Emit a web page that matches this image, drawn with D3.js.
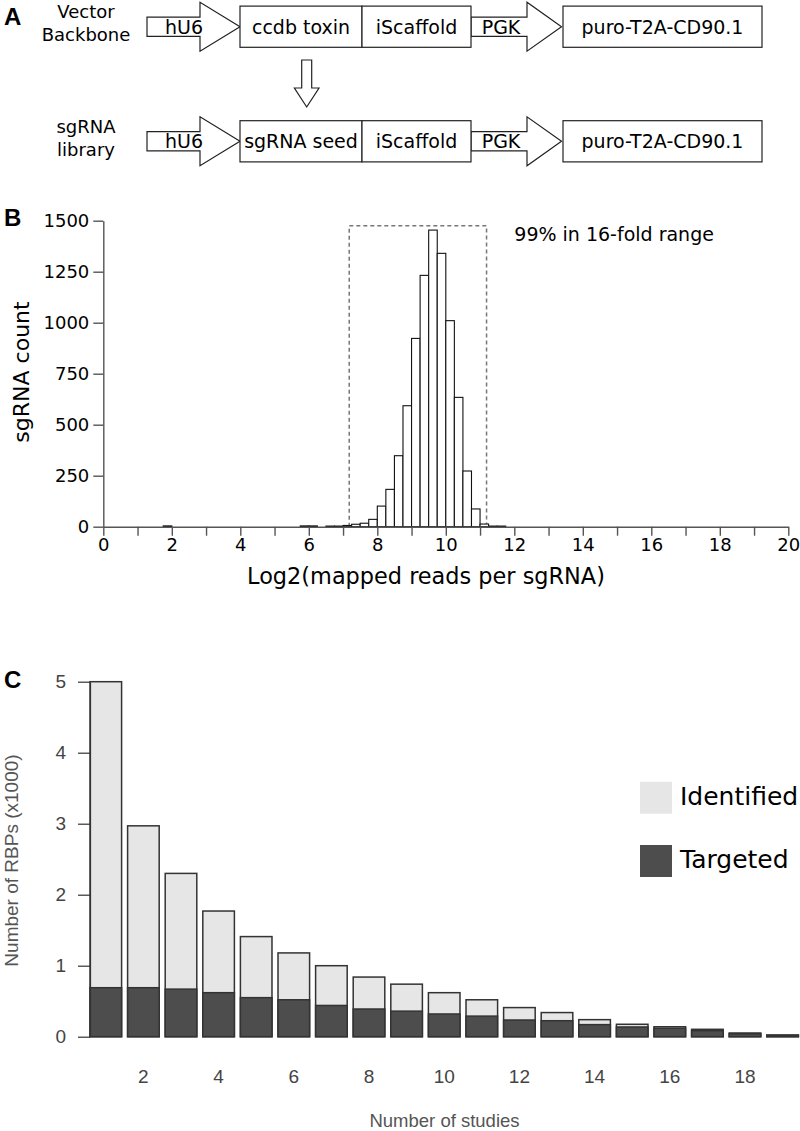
<!DOCTYPE html>
<html>
<head>
<meta charset="utf-8">
<script src="https://cdn.jsdelivr.net/npm/d3@7/dist/d3.min.js"></script>
<style>
  html, body { margin: 0; padding: 0; background: #fff; }
  svg { display: block; }
</style>
</head>
<body>
<svg id="fig" width="800" height="1131"></svg>
<script>
// ---------- Panel A: construct components ----------
const rowLabels = [["Vector", "Backbone"], ["sgRNA", "library"]];
const promoterA = "hU6";
const insertNames = ["ccdb toxin", "sgRNA seed"];
const scaffoldName = "iScaffold";
const promoterB = "PGK";
const cassetteName = "puro-T2A-CD90.1";

// ---------- Panel B: histogram (bin width 0.25, log2 reads) ----------
const binWidth = 0.25;
const binStart = [1.75, 5.75, 6.0, 6.5, 6.75, 7.0, 7.25, 7.5, 7.75, 8.0, 8.25, 8.5, 8.75, 9.0, 9.25, 9.5, 9.75, 10.0, 10.25, 10.5, 10.75, 11.0, 11.25, 11.5];
const binCount = [4, 4, 4, 3, 3, 6, 12, 17, 36, 101, 183, 348, 593, 923, 1232, 1454, 1340, 1010, 634, 273, 87, 13, 3, 3];
const rangeBox = [7.18, 11.19];
const rangeBoxTop = 1475;
const histYTicks = [0, 250, 500, 750, 1000, 1250, 1500];
const rangeNote = "99% in 16-fold range";

// ---------- Panel C: RBPs per number of studies (x1000) ----------
const studies = [1, 2, 3, 4, 5, 6, 7, 8, 9, 10, 11, 12, 13, 14, 15, 16, 17, 18, 19];
const identified = [5.0, 2.97, 2.30, 1.77, 1.41, 1.18, 1.00, 0.84, 0.74, 0.62, 0.52, 0.41, 0.34, 0.24, 0.175, 0.14, 0.104, 0.052, 0.024];
const targeted = [0.69, 0.69, 0.67, 0.62, 0.55, 0.52, 0.44, 0.39, 0.36, 0.32, 0.29, 0.235, 0.225, 0.17, 0.137, 0.12, 0.085, 0.042, 0.02];
const rbpYTicks = [0, 1, 2, 3, 4, 5];
const studyXTicks = [2, 4, 6, 8, 10, 12, 14, 16, 18];
const legendItems = ["Identified", "Targeted"];

const svg = d3.select("#fig");
const VER = "'DejaVu Sans', Verdana, sans-serif";
const ARI = "'Liberation Sans', Arial, Helvetica, sans-serif";

// panel letters
[["A", 25], ["B", 226], ["C", 688]].forEach(([t, y]) => {
  svg.append("text").attr("x", 4).attr("y", y).text(t)
    .attr("font-family", ARI).attr("font-weight", "bold").attr("font-size", 24).attr("fill", "#000");
});

// ================= Panel A =================
const gA = svg.append("g");
const rowCY = [26.7, 141.3];
const boxHalf = 20.6, shaftHalf = 9.6, headHalf = 24.5;
function arrowPath(x0, xh, xt, cy) {
  return `M${x0},${cy - shaftHalf}L${xh},${cy - shaftHalf}L${xh},${cy - headHalf}L${xt},${cy}L${xh},${cy + headHalf}L${xh},${cy + shaftHalf}L${x0},${cy + shaftHalf}Z`;
}
rowCY.forEach((cy, i) => {
  const lbl = gA.append("text").attr("text-anchor", "middle").attr("font-family", VER).attr("font-size", 18).attr("fill", "#000");
  lbl.append("tspan").attr("x", 86).attr("y", cy - 8.5).text(rowLabels[i][0]);
  lbl.append("tspan").attr("x", 86).attr("y", cy + 14.5).text(rowLabels[i][1]);
  gA.append("path").attr("d", arrowPath(147, 200, 240, cy)).attr("fill", "#fff").attr("stroke", "#222").attr("stroke-width", 1.2);
  gA.append("text").attr("x", 184).attr("y", cy + 6.8).attr("text-anchor", "middle").attr("font-family", VER).attr("font-size", 19).text(promoterA);
  gA.append("path").attr("d", arrowPath(471, 527, 561.5, cy)).attr("fill", "#fff").attr("stroke", "#222").attr("stroke-width", 1.2);
  gA.append("text").attr("x", 501).attr("y", cy + 6.8).attr("text-anchor", "middle").attr("font-family", VER).attr("font-size", 19).text(promoterB);
  const boxes = [[240, 362, insertNames[i]], [362, 471, scaffoldName], [563, 762, cassetteName]];
  boxes.forEach(([x0, x1, t]) => {
    gA.append("rect").attr("x", x0).attr("y", cy - boxHalf).attr("width", x1 - x0).attr("height", boxHalf * 2)
      .attr("fill", "#fff").attr("stroke", "#222").attr("stroke-width", 1.2);
    gA.append("text").attr("x", (x0 + x1) / 2).attr("y", cy + 6.8).attr("text-anchor", "middle")
      .attr("font-family", VER).attr("font-size", 19).text(t);
  });
});
gA.append("path")
  .attr("d", "M301.7,60L311.7,60L311.7,88L319,88L306.7,107L294.4,88L301.7,88Z")
  .attr("fill", "#fff").attr("stroke", "#222").attr("stroke-width", 1.2);

// ================= Panel B =================
const gB = svg.append("g");
const xB = d3.scaleLinear().domain([0, 20]).range([103.3, 788.3]);
const yB = d3.scaleLinear().domain([0, 1500]).range([526.7, 220.7]);

gB.append("path")
  .attr("d", `M${xB(rangeBox[0])},${yB(0)}L${xB(rangeBox[0])},${yB(rangeBoxTop)}L${xB(rangeBox[1])},${yB(rangeBoxTop)}L${xB(rangeBox[1])},${yB(0)}`)
  .attr("fill", "none").attr("stroke", "#777").attr("stroke-width", 1.5).attr("stroke-dasharray", "4,3");

gB.selectAll("rect.bin").data(binStart).join("rect").attr("class", "bin")
  .attr("x", d => xB(d))
  .attr("width", d => xB(d + binWidth) - xB(d))
  .attr("y", (d, i) => yB(binCount[i]))
  .attr("height", (d, i) => yB(0) - yB(binCount[i]))
  .attr("fill", "#fff").attr("stroke", "#111").attr("stroke-width", 1.1);

const xAxisB = d3.axisBottom(xB).tickValues(d3.range(0, 21, 1)).tickSize(9).tickSizeOuter(0).tickPadding(3)
  .tickFormat(d => d % 2 === 0 ? String(d) : "");
const gxB = gB.append("g").attr("transform", `translate(0,${yB(0)})`).call(xAxisB);
const yAxisB = d3.axisLeft(yB).tickValues(histYTicks).tickSize(10).tickSizeOuter(0).tickPadding(4)
  .tickFormat(d => String(d));
const gyB = gB.append("g").attr("transform", `translate(${xB(0)},0)`).call(yAxisB);
[gxB, gyB].forEach(g => {
  g.selectAll("path.domain").attr("stroke", "#555").attr("stroke-width", 1.4);
  g.selectAll(".tick line").attr("stroke", "#555").attr("stroke-width", 1.4);
  g.selectAll(".tick text").attr("font-family", VER).attr("font-size", 18).attr("fill", "#000");
});

gB.append("text").attr("x", xB(12)).attr("y", yB(1400)).text(rangeNote)
  .attr("font-family", VER).attr("font-size", 19).attr("fill", "#000");
gB.append("text").attr("x", 426).attr("y", 584).attr("text-anchor", "middle").text("Log2(mapped reads per sgRNA)")
  .attr("font-family", VER).attr("font-size", 22.4).attr("fill", "#000");
gB.append("text").attr("transform", "translate(21,372) rotate(-90)").attr("text-anchor", "middle").attr("dy", "0.35em")
  .text("sgRNA count").attr("font-family", VER).attr("font-size", 22).attr("fill", "#000");

// ================= Panel C =================
const gC = svg.append("g");
const xC = d3.scaleBand().domain(studies).range([87, 801.4]).paddingInner(0.16).paddingOuter(0.08);
const yC = d3.scaleLinear().domain([0, 5]).range([1036.7, 681.7]);

gC.selectAll("rect.ident").data(studies).join("rect").attr("class", "ident")
  .attr("x", d => xC(d)).attr("width", xC.bandwidth())
  .attr("y", (d, i) => yC(identified[i])).attr("height", (d, i) => yC(0) - yC(identified[i]))
  .attr("fill", "#e6e6e6").attr("stroke", "#333").attr("stroke-width", 1.5);
gC.selectAll("rect.targ").data(studies).join("rect").attr("class", "targ")
  .attr("x", d => xC(d)).attr("width", xC.bandwidth())
  .attr("y", (d, i) => yC(targeted[i])).attr("height", (d, i) => yC(0) - yC(targeted[i]))
  .attr("fill", "#4d4d4d").attr("stroke", "#333").attr("stroke-width", 1.5);

const yAxisC = d3.axisLeft(yC).tickValues(rbpYTicks).tickSize(12).tickSizeOuter(0).tickPadding(12)
  .tickFormat(d => String(d));
const gyC = gC.append("g").attr("transform", `translate(${xC(1)},0)`).call(yAxisC);
gyC.selectAll("path.domain").attr("stroke", "#333").attr("stroke-width", 1.2);
gyC.selectAll(".tick line").attr("stroke", "#333").attr("stroke-width", 1.2);
gyC.selectAll(".tick text").attr("font-family", ARI).attr("font-size", 19).attr("fill", "#444");

gC.selectAll("text.xl").data(studyXTicks).join("text").attr("class", "xl")
  .attr("x", d => xC(d) + xC.bandwidth() / 2).attr("y", 1083).attr("text-anchor", "middle")
  .text(d => d).attr("font-family", ARI).attr("font-size", 19).attr("fill", "#444");

gC.append("text").attr("x", 444.5).attr("y", 1127).attr("text-anchor", "middle").text("Number of studies")
  .attr("font-family", ARI).attr("font-size", 18.5).attr("fill", "#555");
gC.append("text").attr("transform", "translate(11,860.5) rotate(-90)").attr("text-anchor", "middle").attr("dy", "0.35em")
  .text("Number of RBPs (x1000)").attr("font-family", ARI).attr("font-size", 19).attr("fill", "#555");

const legFills = ["#e6e6e6", "#4d4d4d"];
const legY = [781.7, 845];
legendItems.forEach((t, i) => {
  gC.append("rect").attr("x", 640).attr("y", legY[i]).attr("width", 32).attr("height", 32).attr("fill", legFills[i]);
  gC.append("text").attr("x", 680).attr("y", legY[i] + 23).text(t)
    .attr("font-family", VER).attr("font-size", 25).attr("fill", "#000");
});
</script>
</body>
</html>
